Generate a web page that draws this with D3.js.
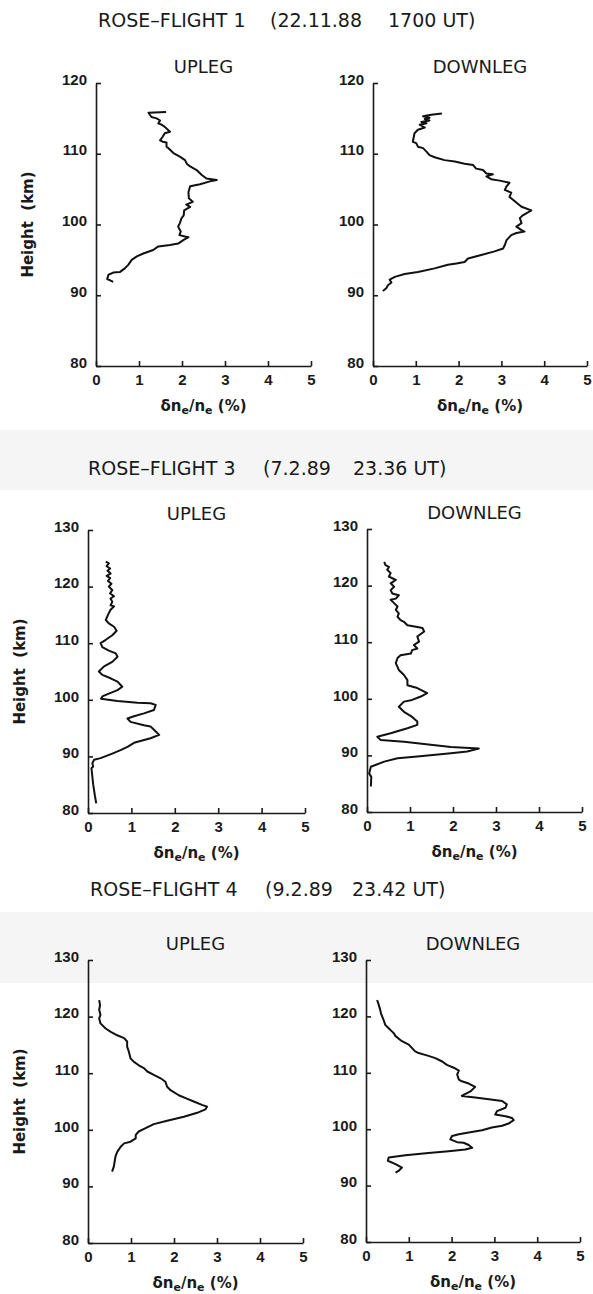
<!DOCTYPE html>
<html>
<head>
<meta charset="utf-8">
<script src="https://cdn.jsdelivr.net/npm/d3@7"></script>
<style>
    body { margin: 0; background: #fff; }
    svg { display: block; font-family: "DejaVu Sans", Arial, sans-serif; }
    .axis path, .axis line { stroke: #1a1a1a; stroke-width: 1.6px; }
    .axis text { font-size: 15px; font-weight: bold; fill: #1a1a1a; }
</style>
</head>
<body>
<svg id="viz" width="593" height="1294"></svg>
<script>
// ---- data ----
var xTicks = [0, 1, 2, 3, 4, 5];
var yTicksFlight1 = [80, 90, 100, 110, 120];
var yTicksFlight34 = [80, 90, 100, 110, 120, 130];

var flightNames = ["ROSE\u2013FLIGHT 1", "ROSE\u2013FLIGHT 3", "ROSE\u2013FLIGHT 4"];
var flightDates = ["(22.11.88", "(7.2.89", "(9.2.89"];
var flightTimes = ["1700 UT)", "23.36 UT)", "23.42 UT)"];
var legNames = ["UPLEG", "DOWNLEG"];

// flight 1 upleg: height (km) and dn/n (%)
var f1UpKm = [115.9, 115.8, 115.2, 115.0, 114.7, 114.3, 114.1, 113.8, 113.1, 112.9, 112.4, 111.9, 111.7, 111.6,
    111.0, 110.8, 110.1, 109.6, 109.1, 108.6, 108.2, 107.7, 107.0, 106.5, 106.3, 106.1, 105.7, 105.4, 104.6,
    103.7, 103.2, 102.8, 102.5, 102.0, 101.3, 100.9, 100.2, 99.7, 99.0, 98.5, 98.3, 98.2, 97.8, 97.3, 97.1,
    96.9, 96.4, 95.9, 95.5, 95.0, 94.3, 93.8, 93.3, 93.2, 92.9, 92.3, 92.1, 91.9];
var f1UpPct = [1.63, 1.22, 1.29, 1.41, 1.49, 1.45, 1.53, 1.60, 1.72, 1.60, 1.55, 1.49, 1.55, 1.64,
    1.64, 1.68, 1.80, 1.95, 2.07, 2.11, 2.19, 2.34, 2.46, 2.57, 2.81, 2.65, 2.42, 2.19, 2.15,
    2.16, 2.25, 2.10, 2.19, 2.05, 2.04, 1.99, 1.95, 1.91, 1.97, 1.94, 2.07, 2.15, 2.03, 1.91, 1.72,
    1.45, 1.33, 1.10, 0.95, 0.83, 0.75, 0.67, 0.56, 0.40, 0.29, 0.26, 0.33, 0.40];

// flight 1 downleg
var f1DownKm = [115.7, 115.5, 115.3, 115.1, 114.9, 114.7, 114.5, 114.3, 114.1, 113.7, 113.4, 112.9, 111.7,
    111.5, 111.0, 110.8, 110.3, 109.8, 109.5, 109.1, 108.9, 108.6, 108.4, 107.9, 107.7, 107.2, 107.1, 106.8,
    106.4, 106.2, 105.9, 105.4, 104.9, 104.5, 103.9, 103.5, 102.5, 102.0, 101.3, 100.9, 100.2, 99.7, 99.2,
    99.0, 98.8, 98.5, 97.8, 97.1, 96.6, 96.2, 95.7, 95.2, 94.7, 94.5, 94.3, 93.8, 93.3, 93.0, 92.6, 92.2,
    91.8, 91.4, 91.0, 90.6];
var f1DownPct = [1.61, 1.36, 1.17, 1.32, 1.21, 1.32, 1.13, 1.25, 1.09, 1.21, 1.05, 0.97, 0.93,
    1.01, 1.05, 1.17, 1.25, 1.32, 1.44, 1.67, 1.91, 2.14, 2.34, 2.41, 2.57, 2.65, 2.80, 2.65,
    2.76, 2.96, 3.19, 3.12, 3.08, 3.23, 3.19, 3.27, 3.47, 3.70, 3.50, 3.43, 3.47, 3.35, 3.47,
    3.54, 3.35, 3.23, 3.12, 3.08, 3.04, 2.84, 2.53, 2.22, 2.14, 1.95, 1.75, 1.44, 1.05, 0.74, 0.51, 0.39,
    0.43, 0.35, 0.31, 0.23];

// flight 3 upleg
var f3UpKm = [124.4, 124.1, 123.6, 123.2, 122.8, 122.3, 121.9, 121.5, 121.0, 120.5, 120.0, 119.4, 118.8, 118.3,
    117.9, 117.3, 116.7, 116.5, 115.9, 115.0, 114.1, 113.5, 112.9, 112.2, 111.4, 110.6, 110.0, 109.3, 108.7,
    108.2, 107.6, 106.7, 105.9, 105.0, 104.4, 103.8, 103.2, 102.3, 101.7, 101.1, 100.6, 100.2, 99.8, 99.5,
    99.4, 99.1, 98.2, 97.6, 97.1, 96.7, 96.1, 95.5, 95.3, 94.7, 93.8, 93.2, 92.4, 91.7, 91.1, 90.5, 89.7,
    89.4, 88.8, 88.2, 87.9, 85.0, 83.0, 81.7];
var f3UpPct = [0.41, 0.48, 0.43, 0.51, 0.45, 0.52, 0.43, 0.51, 0.46, 0.54, 0.48, 0.56, 0.51, 0.60,
    0.52, 0.56, 0.52, 0.60, 0.52, 0.46, 0.41, 0.48, 0.60, 0.66, 0.56, 0.41, 0.29, 0.33, 0.48,
    0.64, 0.68, 0.56, 0.37, 0.25, 0.33, 0.52, 0.68, 0.79, 0.68, 0.48, 0.33, 0.30, 0.68, 1.14,
    1.44, 1.56, 1.52, 1.29, 1.06, 0.91, 0.98, 1.29, 1.44, 1.52, 1.64, 1.44, 1.06, 0.91, 0.75, 0.56, 0.29,
    0.14, 0.10, 0.12, 0.08, 0.12, 0.16, 0.19];

// flight 3 downleg
var f3DownKm = [124.2, 123.6, 123.3, 122.8, 122.2, 121.6, 121.3, 121.0, 120.4, 119.8, 119.2, 118.6, 118.3,
    117.7, 117.5, 116.9, 116.3, 115.7, 115.1, 114.5, 113.9, 113.6, 113.0, 112.7, 112.5, 111.9, 111.0, 110.1,
    109.5, 108.9, 108.6, 108.0, 107.7, 107.2, 106.3, 105.1, 104.2, 103.3, 102.4, 101.9, 101.0, 100.4, 99.8,
    99.5, 98.6, 97.7, 96.8, 96.0, 95.4, 94.8, 93.9, 93.3, 92.7, 92.4, 91.5, 91.2, 90.7, 90.4, 89.8, 89.5,
    88.9, 88.0, 86.8, 86.2, 84.5];
var f3DownPct = [0.40, 0.43, 0.51, 0.47, 0.55, 0.51, 0.59, 0.67, 0.55, 0.63, 0.55, 0.59, 0.74,
    0.67, 0.55, 0.63, 0.71, 0.67, 0.74, 0.71, 0.78, 0.86, 0.94, 1.17, 1.29, 1.33, 1.17, 1.21,
    1.09, 1.17, 1.05, 1.02, 0.78, 0.71, 0.67, 0.74, 0.86, 0.94, 0.94, 1.17, 1.40, 1.25, 1.05,
    0.86, 0.74, 0.86, 1.05, 1.17, 1.17, 0.94, 0.55, 0.24, 0.32, 0.86, 1.95, 2.60, 2.33, 1.95, 1.17, 0.71,
    0.40, 0.09, 0.05, 0.10, 0.09];

// flight 4 upleg
var f4UpKm = [122.9, 122.0, 121.2, 120.3, 119.7, 118.8, 117.9, 117.3, 116.7, 116.2, 115.6, 114.7, 113.8, 112.6,
    112.0, 111.4, 110.9, 110.3, 109.7, 109.1, 108.5, 107.6, 107.0, 106.1, 105.6, 105.0, 104.4, 104.1, 103.6,
    103.0, 102.3, 101.6, 101.0, 100.3, 99.7, 99.1, 98.5, 97.9, 97.6, 97.0, 96.1, 95.3, 94.4, 93.5, 92.6];
var f4UpPct = [0.26, 0.28, 0.26, 0.29, 0.26, 0.29, 0.41, 0.53, 0.68, 0.84, 0.91, 0.91, 0.95, 0.99,
    1.07, 1.18, 1.30, 1.38, 1.53, 1.69, 1.80, 1.84, 1.92, 2.11, 2.27, 2.46, 2.65, 2.77, 2.73,
    2.54, 2.23, 1.84, 1.53, 1.34, 1.18, 1.11, 1.11, 0.99, 0.84, 0.76, 0.68, 0.64, 0.62, 0.60, 0.56];

// flight 4 downleg
var f4DownKm = [122.9, 122.0, 121.2, 120.3, 119.4, 118.5, 117.9, 117.3, 117.0, 116.5, 115.6, 115.0, 114.1,
    113.8, 113.5, 113.0, 112.6, 112.0, 111.4, 110.9, 110.4, 109.7, 108.8, 108.5, 108.1, 107.5, 106.7, 106.1,
    105.9, 105.6, 105.3, 105.0, 104.4, 103.8, 103.2, 102.6, 102.3, 102.0, 101.6, 101.0, 100.6, 100.3, 99.8,
    99.4, 99.1, 98.8, 98.2, 97.7, 97.6, 97.2, 96.7, 96.4, 96.1, 95.8, 95.4, 95.0, 94.4, 93.8, 93.2, 92.6, 92.3];
var f4DownPct = [0.26, 0.30, 0.33, 0.36, 0.41, 0.45, 0.53, 0.61, 0.65, 0.69, 0.84, 1.00, 1.11,
    1.15, 1.23, 1.46, 1.62, 1.78, 1.89, 2.05, 2.17, 2.13, 2.17, 2.24, 2.40, 2.55, 2.44, 2.28,
    2.24, 2.55, 2.87, 3.18, 3.29, 3.26, 3.06, 3.02, 3.26, 3.41, 3.45, 3.33, 3.18, 2.94, 2.71,
    2.40, 2.17, 2.01, 1.97, 2.13, 2.28, 2.40, 2.48, 2.32, 1.93, 1.46, 0.92, 0.53, 0.51, 0.69, 0.84, 0.76, 0.69];

// ---- layout ----
var svg = d3.select("#viz");

// faint grey bands of the scan
svg.append("rect").attr("x", 0).attr("y", 430).attr("width", 593).attr("height", 60).attr("fill", "#f5f5f5");
svg.append("rect").attr("x", 0).attr("y", 912).attr("width", 593).attr("height", 71).attr("fill", "#f5f5f5");

var titleLayout = [
    {base: 27, xs: [98, 270, 388]},
    {base: 475, xs: [88, 263, 353]},
    {base: 896, xs: [90, 265, 352]}
];

titleLayout.forEach(function (t, i) {
    [flightNames[i], flightDates[i], flightTimes[i]].forEach(function (s, j) {
        svg.append("text")
            .attr("x", t.xs[j])
            .attr("y", t.base)
            .style("font-size", "19px")
            .style("fill", "#1a1a1a")
            .text(s);
    });
});

var panels = [
    {leg: 0, km: f1UpKm, pct: f1UpPct, yTicks: yTicksFlight1, left: 96, right: 311, top: 83, bottom: 366},
    {leg: 1, km: f1DownKm, pct: f1DownPct, yTicks: yTicksFlight1, left: 373, right: 587, top: 83, bottom: 366},
    {leg: 0, km: f3UpKm, pct: f3UpPct, yTicks: yTicksFlight34, left: 88, right: 305, top: 530, bottom: 813},
    {leg: 1, km: f3DownKm, pct: f3DownPct, yTicks: yTicksFlight34, left: 367, right: 582, top: 529, bottom: 812},
    {leg: 0, km: f4UpKm, pct: f4UpPct, yTicks: yTicksFlight34, left: 88, right: 303, top: 960, bottom: 1243},
    {leg: 1, km: f4DownKm, pct: f4DownPct, yTicks: yTicksFlight34, left: 366, right: 580, top: 960, bottom: 1242}
];

panels.forEach(function (p) {
    var x = d3.scaleLinear().domain([0, 5]).range([p.left, p.right]);
    var y = d3.scaleLinear().domain([80, d3.max(p.yTicks)]).range([p.bottom, p.top]);
    var g = svg.append("g");

    g.append("g")
        .attr("class", "axis")
        .attr("transform", "translate(0," + p.bottom + ")")
        .call(d3.axisBottom(x).tickValues(xTicks).tickSizeInner(-5).tickSizeOuter(0)
            .tickPadding(8).tickFormat(d3.format("d")));

    var yAxis = g.append("g")
        .attr("class", "axis")
        .attr("transform", "translate(" + p.left + ",0)")
        .call(d3.axisLeft(y).tickValues(p.yTicks).tickSizeInner(-5).tickSizeOuter(0)
            .tickPadding(9).tickFormat(d3.format("d")));
    yAxis.selectAll("text").attr("dy", "0.08em");

    // the profile itself
    var line = d3.line()
        .x(function (d, i) { return x(p.pct[i]); })
        .y(function (d) { return y(d); });
    g.append("path")
        .datum(p.km)
        .attr("d", line)
        .attr("fill", "none")
        .attr("stroke", "#111")
        .attr("stroke-width", 2)
        .attr("stroke-linejoin", "round");

    // UPLEG / DOWNLEG
    g.append("text")
        .attr("x", (p.left + p.right) / 2)
        .attr("y", p.top - 10)
        .style("text-anchor", "middle")
        .style("font-size", "18px")
        .style("fill", "#1a1a1a")
        .text(legNames[p.leg]);

    // x axis title with subscripts
    var xt = g.append("text")
        .attr("x", (p.left + p.right) / 2)
        .attr("y", p.bottom + 45)
        .style("text-anchor", "middle")
        .style("font-size", "15px")
        .style("font-weight", "bold")
        .style("fill", "#1a1a1a");
    xt.append("tspan").text("\u03b4n");
    xt.append("tspan").attr("dy", 3).style("font-size", "11px").text("e");
    xt.append("tspan").attr("dy", -3).text("/n");
    xt.append("tspan").attr("dy", 3).style("font-size", "11px").text("e");
    xt.append("tspan").attr("dy", -3).text(" (%)");

    if (p.leg === 0) {
        g.append("text")
            .attr("transform", "translate(" + (p.left - 63) + "," + (p.top + p.bottom) / 2 + ") rotate(-90)")
            .style("text-anchor", "middle")
            .style("font-size", "15px")
            .style("font-weight", "bold")
            .style("fill", "#1a1a1a")
            .style("white-space", "pre")
            .text("Height  (km)");
    }
});
</script>
</body>
</html>
